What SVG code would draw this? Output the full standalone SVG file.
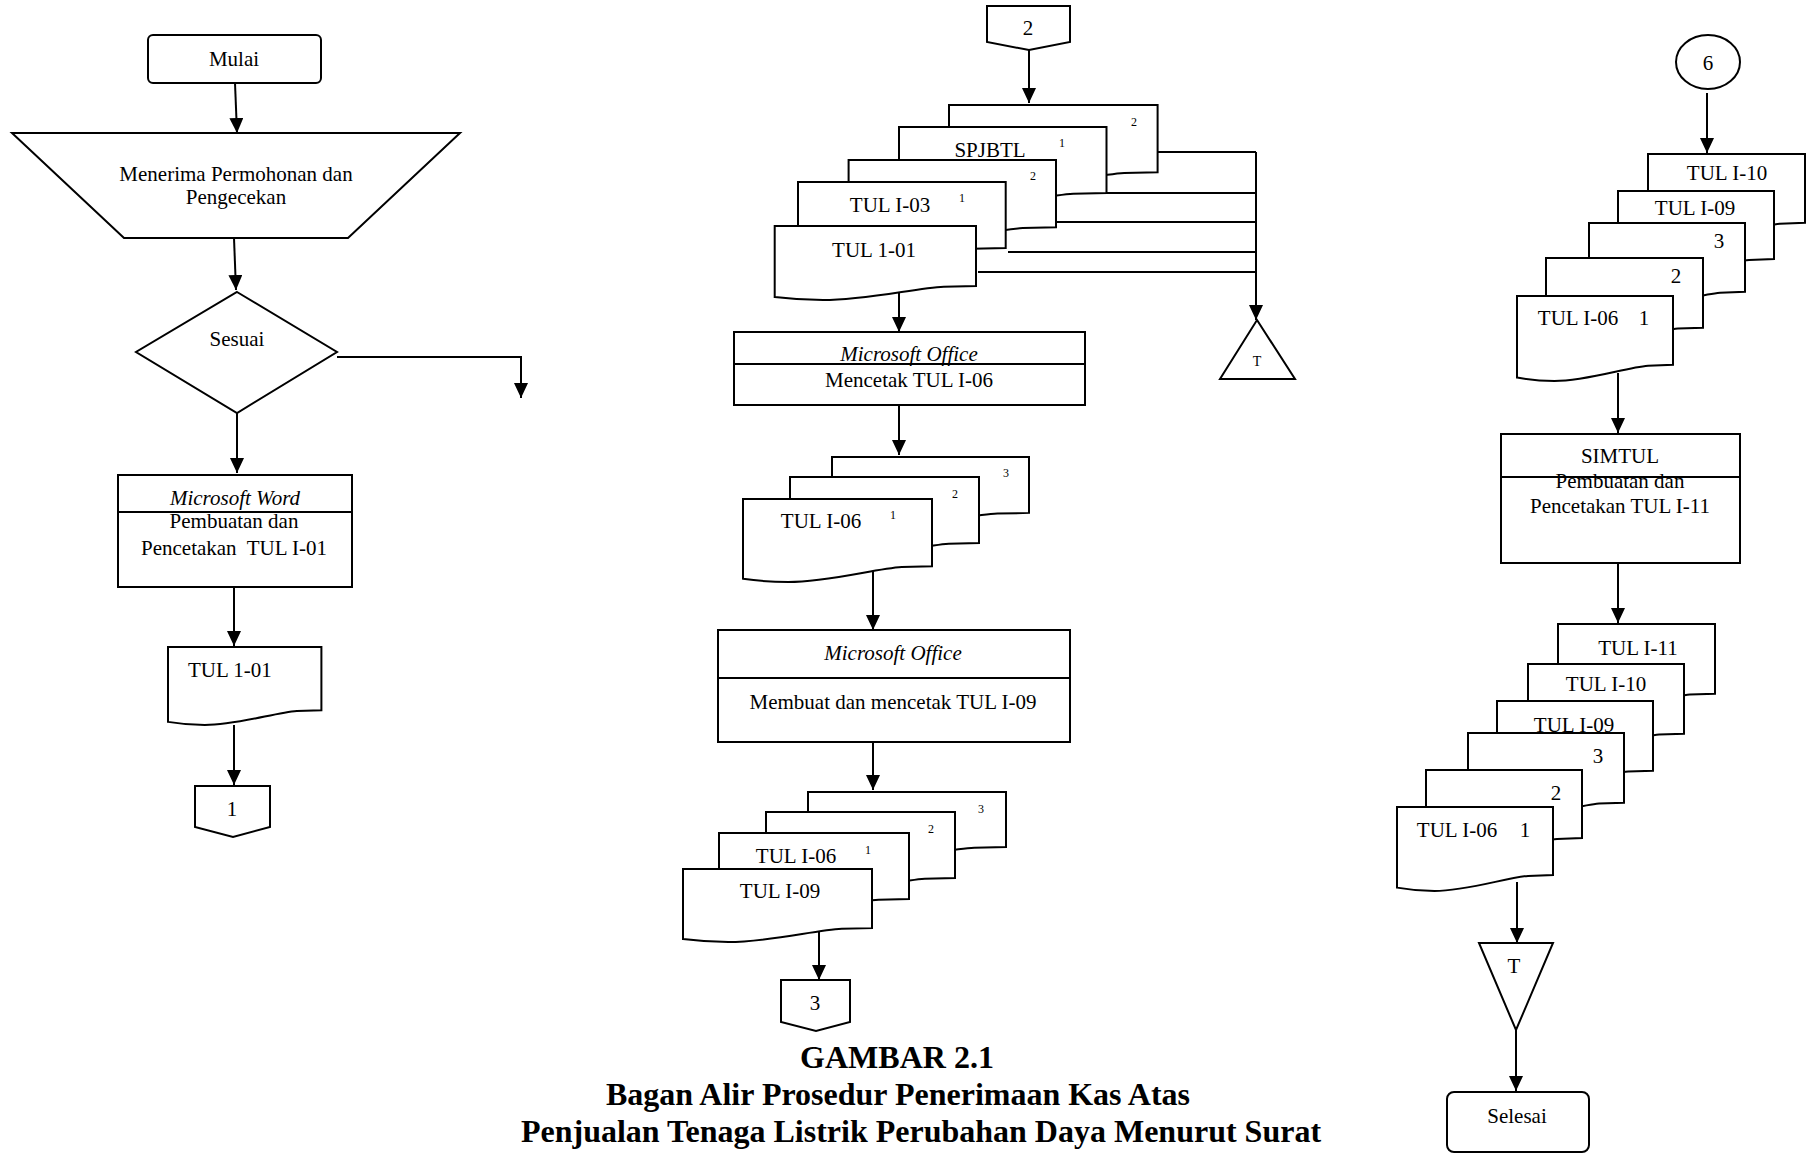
<svg xmlns="http://www.w3.org/2000/svg" width="1809" height="1153" viewBox="0 0 1809 1153">
<style>
.s{fill:#fff;stroke:#000;stroke-width:2}
.ln{fill:none;stroke:#000;stroke-width:2}
.ar{fill:none;stroke:#000;stroke-width:2;marker-end:url(#ah)}
text{font-family:"Liberation Serif","Times New Roman",serif;font-size:21px;fill:#000;white-space:pre}
.c{text-anchor:middle}
.i{font-style:italic}
.sm{font-size:12px;text-anchor:middle}
.cap{font-weight:bold;font-size:32px;text-anchor:middle}
</style>
<defs>
<marker id="ah" markerUnits="userSpaceOnUse" markerWidth="15" markerHeight="14" refX="15" refY="7" orient="auto" viewBox="0 0 15 14"><path d="M0,0 L15,7 L0,14 Z" fill="#000"/></marker>
<path id="doc" d="M0,0 H100 V81 L84,82 C70,84 45,100 24,100 C14,100 6,98 0,96 Z" vector-effect="non-scaling-stroke"/>
</defs>
<rect width="1809" height="1153" fill="#fff"/>

<g id="connectors">
<path class="ar" d="M235,83 L237,133"/>
<path class="ar" d="M234,238 L236,290"/>
<path class="ar" d="M337,357 H521 V398"/>
<path class="ar" d="M237,413 L237,473"/>
<path class="ar" d="M234,587 V646"/>
<path class="ar" d="M234,725 V785"/>
<path class="ar" d="M1029,50 V103"/>
<path class="ln" d="M1158,152 H1256 M1106,193 H1256 M1056,222 H1256 M1008,252 H1256 M978,272 H1256"/>
<path class="ar" d="M1256,152 V320"/>
<path class="ar" d="M899,293 V332"/>
<path class="ar" d="M899,405 V455"/>
<path class="ar" d="M873,571 V630"/>
<path class="ar" d="M873,742 V790"/>
<path class="ar" d="M819,930 V980"/>
<path class="ar" d="M1707,93 V153"/>
<path class="ar" d="M1618,373 V433"/>
<path class="ar" d="M1618,563 V623"/>
<path class="ar" d="M1517,882 V943"/>
<path class="ar" d="M1516,1030 V1091"/>
</g>

<g id="mulai"><rect class="s" x="148" y="35" width="173" height="48" rx="5"/><text class="c" x="234" y="66">Mulai</text></g>
<g id="menerima"><path class="s" d="M12,133 H460 L348,238 H124 Z"/><text class="c" x="236" y="181">Menerima Permohonan dan</text><text class="c" x="236" y="204">Pengecekan</text></g>
<g id="sesuai"><path class="s" d="M237,292 L337,352 L237,413 L136,352 Z"/><text class="c" x="237" y="346">Sesuai</text></g>
<g id="word"><rect class="s" x="118" y="475" width="234" height="112"/><path class="ln" d="M118,512 H352"/><text class="c i" x="235" y="505">Microsoft Word</text><text class="c" x="234" y="528">Pembuatan dan</text><text class="c" x="234" y="555">Pencetakan  TUL I-01</text></g>
<g id="doc-left"><use href="#doc" class="s" transform="translate(168,647) scale(1.534,0.78)"/><text x="188" y="677">TUL 1-01</text></g>
<g id="conn1"><path class="s" d="M195,786 H270 V827 L233,837 L195,827 Z"/><text class="c" x="232" y="816">1</text></g>

<g id="conn2"><path class="s" d="M987,6 H1070 V42 L1029,50 L987,42 Z"/><text class="c" x="1028" y="35">2</text></g>
<g id="stack-top">
<use href="#doc" class="s" transform="translate(949,105) scale(2.086,0.83)"/><text class="sm" x="1134" y="126">2</text>
<use href="#doc" class="s" transform="translate(899,127) scale(2.075,0.815)"/><text class="c" x="990" y="157">SPJBTL</text><text class="sm" x="1062" y="147">1</text>
<use href="#doc" class="s" transform="translate(848.6,160) scale(2.074,0.83)"/><text class="sm" x="1033" y="180">2</text>
<use href="#doc" class="s" transform="translate(798,182) scale(2.077,0.815)"/><text class="c" x="890" y="212">TUL I-03</text><text class="sm" x="962" y="202">1</text>
<use href="#doc" class="s" transform="translate(774.7,226) scale(2.013,0.74)"/><text class="c" x="874" y="257">TUL 1-01</text>
</g>
<g id="arsip1"><path class="s" d="M1257,320 L1295,379 H1220 Z"/><text class="c" x="1257" y="366" style="font-size:14px">T</text></g>
<g id="mso1"><rect class="s" x="734" y="332" width="351" height="73"/><text class="c i" x="909" y="361">Microsoft Office</text><path class="ln" d="M734,364 H1085"/><text class="c" x="909" y="387">Mencetak TUL I-06</text></g>
<g id="stack-mid">
<use href="#doc" class="s" transform="translate(832,457) scale(1.97,0.69)"/><text class="sm" x="1006" y="477">3</text>
<use href="#doc" class="s" transform="translate(790,477) scale(1.89,0.815)"/><text class="sm" x="955" y="498">2</text>
<use href="#doc" class="s" transform="translate(743,499) scale(1.89,0.83)"/><text class="c" x="821" y="528">TUL I-06</text><text class="sm" x="893" y="519">1</text>
</g>
<g id="mso2"><rect class="s" x="718" y="630" width="352" height="112"/><path class="ln" d="M718,678 H1070"/><text class="c i" x="893" y="660">Microsoft Office</text><text class="c" x="893" y="709">Membuat dan mencetak TUL I-09</text></g>
<g id="stack-bot">
<use href="#doc" class="s" transform="translate(808,792) scale(1.98,0.68)"/><text class="sm" x="981" y="813">3</text>
<use href="#doc" class="s" transform="translate(766,812) scale(1.89,0.815)"/><text class="sm" x="931" y="833">2</text>
<use href="#doc" class="s" transform="translate(719,833) scale(1.90,0.815)"/><text class="c" x="796" y="863">TUL I-06</text><text class="sm" x="868" y="854">1</text>
<use href="#doc" class="s" transform="translate(683,869) scale(1.89,0.73)"/><text class="c" x="780" y="898">TUL I-09</text>
</g>
<g id="conn3"><path class="s" d="M781,980 H850 V1022 L816,1031 L781,1022 Z"/><text class="c" x="815" y="1010">3</text></g>

<g id="conn6"><ellipse class="s" cx="1708" cy="62" rx="32" ry="27"/><text class="c" x="1708" y="70">6</text></g>
<g id="stack-right-top">
<use href="#doc" class="s" transform="translate(1648,154) scale(1.57,0.85)"/><text class="c" x="1727" y="180">TUL I-10</text>
<use href="#doc" class="s" transform="translate(1618,191) scale(1.56,0.84)"/><text class="c" x="1695" y="215">TUL I-09</text>
<use href="#doc" class="s" transform="translate(1589,223) scale(1.56,0.85)"/><text class="c" x="1719" y="248">3</text>
<use href="#doc" class="s" transform="translate(1546,258) scale(1.57,0.86)"/><text class="c" x="1676" y="283">2</text>
<use href="#doc" class="s" transform="translate(1517,296) scale(1.56,0.85)"/><text class="c" x="1578" y="325">TUL I-06</text><text class="c" x="1644" y="325">1</text>
</g>
<g id="simtul"><rect class="s" x="1501" y="434" width="239" height="129"/><path class="ln" d="M1501,477 H1740"/><text class="c" x="1620" y="463">SIMTUL</text><text class="c" x="1620" y="488">Pembuatan dan</text><text class="c" x="1620" y="513">Pencetakan TUL I-11</text></g>
<g id="stack-right-bot">
<use href="#doc" class="s" transform="translate(1558,624) scale(1.57,0.86)"/><text class="c" x="1638" y="655">TUL I-11</text>
<use href="#doc" class="s" transform="translate(1528,664) scale(1.56,0.86)"/><text class="c" x="1606" y="691">TUL I-10</text>
<use href="#doc" class="s" transform="translate(1497,701) scale(1.56,0.86)"/><text class="c" x="1574" y="732">TUL I-09</text>
<use href="#doc" class="s" transform="translate(1468,733) scale(1.56,0.86)"/><text class="c" x="1598" y="763">3</text>
<use href="#doc" class="s" transform="translate(1426,770) scale(1.56,0.84)"/><text class="c" x="1556" y="800">2</text>
<use href="#doc" class="s" transform="translate(1397,807) scale(1.56,0.84)"/><text class="c" x="1457" y="837">TUL I-06</text><text class="c" x="1525" y="837">1</text>
</g>
<g id="arsip2"><path class="s" d="M1479,943 H1553 L1516,1030 Z"/><text class="c" x="1514" y="973">T</text></g>
<g id="selesai"><rect class="s" x="1447" y="1092" width="142" height="60" rx="7"/><text class="c" x="1517" y="1123">Selesai</text></g>

<g id="caption">
<text class="cap" x="897" y="1068">GAMBAR 2.1</text>
<text class="cap" x="898" y="1105">Bagan Alir Prosedur Penerimaan Kas Atas</text>
<text class="cap" x="921" y="1142">Penjualan Tenaga Listrik Perubahan Daya Menurut Surat</text>
</g>
</svg>
